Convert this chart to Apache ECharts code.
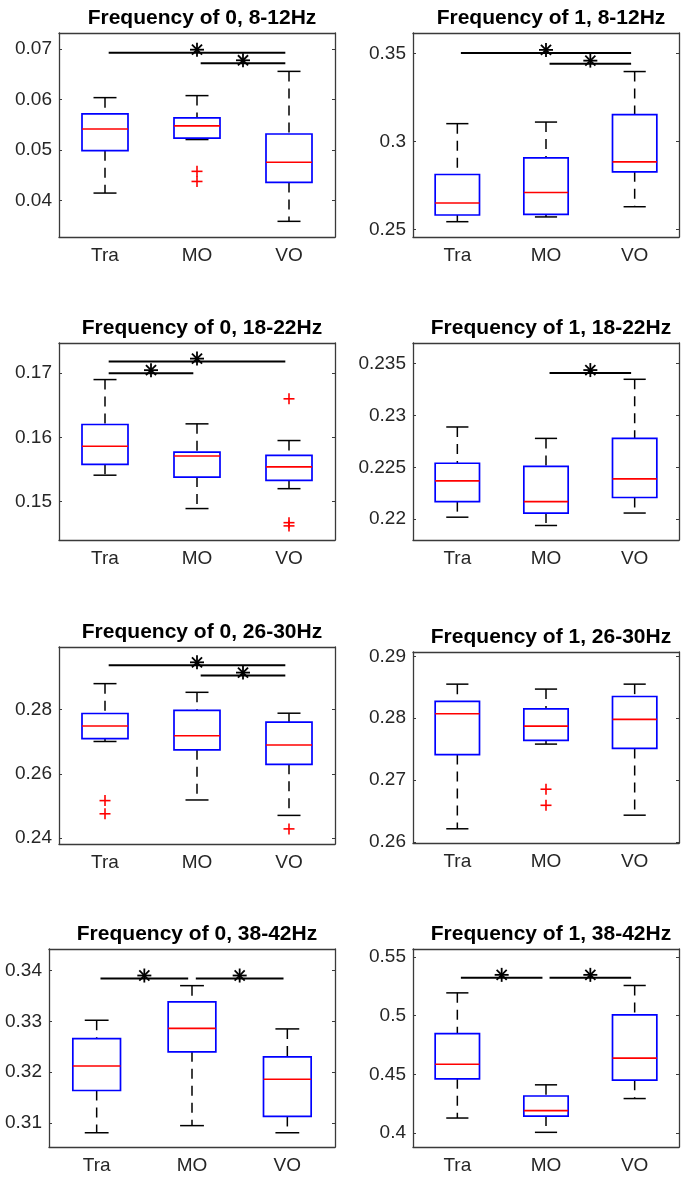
<!DOCTYPE html>
<html>
<head>
<meta charset="utf-8">
<script src="https://cdn.jsdelivr.net/npm/echarts@6/dist/echarts.min.js"></script>
<style>
  html, body { margin: 0; padding: 0; background: #fff; }
  #chart { width: 687px; height: 1179px; }
</style>
</head>
<body>
<div id="chart"></div>
<script>
var groups = ['Tra', 'MO', 'VO'];

// each row: [lower whisker, Q1, median, Q3, upper whisker] for Tra, MO, VO
var box0_8 = [[0.0415, 0.0499, 0.0542, 0.0572, 0.0604], [0.0521, 0.0524, 0.0548, 0.0564, 0.0608], [0.0359, 0.0436, 0.0476, 0.0532, 0.0656]];
var box1_8 = [[0.2545, 0.2583, 0.2651, 0.2813, 0.3102], [0.2572, 0.2587, 0.2711, 0.2908, 0.3111], [0.2630, 0.2828, 0.2885, 0.3153, 0.3398]];
var box0_18 = [[0.1541, 0.1558, 0.1586, 0.1620, 0.1690], [0.1489, 0.1538, 0.1571, 0.1577, 0.1621], [0.1520, 0.1533, 0.1554, 0.1572, 0.1595]];
var box1_18 = [[0.2202, 0.2217, 0.2237, 0.2254, 0.2289], [0.2194, 0.2206, 0.2217, 0.2251, 0.2278], [0.2206, 0.2221, 0.2239, 0.2278, 0.2335]];
var box0_26 = [[0.2701, 0.2710, 0.2749, 0.2788, 0.2881], [0.2519, 0.2675, 0.2719, 0.2798, 0.2854], [0.2471, 0.2630, 0.2690, 0.2761, 0.2789]];
var box1_26 = [[0.2621, 0.2741, 0.2807, 0.2827, 0.2855], [0.2758, 0.2764, 0.2787, 0.2815, 0.2847], [0.2643, 0.2751, 0.2798, 0.2835, 0.2855]];
var box0_38 = [[0.3081, 0.3164, 0.3212, 0.3266, 0.3302], [0.3095, 0.3240, 0.3286, 0.3338, 0.3370], [0.3081, 0.3113, 0.3186, 0.3230, 0.3285]];
var box1_38 = [[0.4127, 0.4461, 0.4586, 0.4846, 0.5194], [0.4005, 0.4144, 0.4190, 0.4315, 0.4410], [0.4293, 0.4450, 0.4638, 0.5006, 0.5257]];

// outliers: [group index, value]
var out0_8 = [[1, 0.0458], [1, 0.0438]];
var out1_8 = [];
var out0_18 = [[2, 0.1660], [2, 0.1467], [2, 0.1462]];
var out1_18 = [];
var out0_26 = [[0, 0.2517], [0, 0.2476], [2, 0.2429]];
var out1_26 = [[1, 0.2685], [1, 0.2659]];
var out0_38 = [];
var out1_38 = [];

// significance bars: [from group, to group, height]
var sig0_8 = [[0, 2, 0.0693], [1, 2, 0.0672]];
var sig1_8 = [[0, 2, 0.3504], [1, 2, 0.3443]];
var sig0_18 = [[0, 2, 0.1718], [0, 1, 0.1700]];
var sig1_18 = [[1, 2, 0.2341]];
var sig0_26 = [[0, 2, 0.2938], [1, 2, 0.2906]];
var sig1_26 = [];
var sig0_38 = [[0, 1, 0.3384], [1, 2, 0.3384]];
var sig1_38 = [[0, 1, 0.5322], [1, 2, 0.5322]];

// y tick labels and y limits
var ticks0_8 = [0.04, 0.05, 0.06, 0.07];
var ticks1_8 = [0.25, 0.3, 0.35];
var ticks0_18 = [0.15, 0.16, 0.17];
var ticks1_18 = [0.22, 0.225, 0.23, 0.235];
var ticks0_26 = [0.24, 0.26, 0.28];
var ticks1_26 = [0.26, 0.27, 0.28, 0.29];
var ticks0_38 = [0.31, 0.32, 0.33, 0.34];
var ticks1_38 = [0.4, 0.45, 0.5, 0.55];
var lim0_8 = [0.0328, 0.0732];
var lim1_8 = [0.2458, 0.3617];
var lim0_18 = [0.1440, 0.1747];
var lim1_18 = [0.2180, 0.2370];
var lim0_26 = [0.2382, 0.2995];
var lim1_26 = [0.2598, 0.2907];
var lim0_38 = [0.3053, 0.3442];
var lim1_38 = [0.3880, 0.5568];

var titles = ['Frequency of 0, 8-12Hz', 'Frequency of 1, 8-12Hz',
  'Frequency of 0, 18-22Hz', 'Frequency of 1, 18-22Hz',
  'Frequency of 0, 26-30Hz', 'Frequency of 1, 26-30Hz',
  'Frequency of 0, 38-42Hz', 'Frequency of 1, 38-42Hz'];

var panels = [
  { box: box0_8, out: out0_8, sig: sig0_8, ticks: ticks0_8, lim: lim0_8, pos: [59, 33, 276, 204] },
  { box: box1_8, out: out1_8, sig: sig1_8, ticks: ticks1_8, lim: lim1_8, pos: [413, 33, 266, 204] },
  { box: box0_18, out: out0_18, sig: sig0_18, ticks: ticks0_18, lim: lim0_18, pos: [59, 343, 276, 197] },
  { box: box1_18, out: out1_18, sig: sig1_18, ticks: ticks1_18, lim: lim1_18, pos: [413, 343, 266, 197] },
  { box: box0_26, out: out0_26, sig: sig0_26, ticks: ticks0_26, lim: lim0_26, pos: [59, 647, 276, 197] },
  { box: box1_26, out: out1_26, sig: sig1_26, ticks: ticks1_26, lim: lim1_26, pos: [413, 652, 266, 191] },
  { box: box0_38, out: out0_38, sig: sig0_38, ticks: ticks0_38, lim: lim0_38, pos: [49, 949, 286, 198] },
  { box: box1_38, out: out1_38, sig: sig1_38, ticks: ticks1_38, lim: lim1_38, pos: [413, 949, 266, 198] }
];

var frame = '#3a3a3a';
var labelFont = { fontFamily: 'Liberation Sans', fontSize: 19, color: '#262626' };

function renderBox(params, api) {
  var i = api.value(0);
  var band = api.size([1, 0])[0];
  var hw = band * 0.25, cw = band * 0.125;
  var lo = api.coord([i, api.value(1)]);
  var q1 = api.coord([i, api.value(2)]);
  var md = api.coord([i, api.value(3)]);
  var q3 = api.coord([i, api.value(4)]);
  var hi = api.coord([i, api.value(5)]);
  var x = lo[0];
  var dash = { stroke: '#000', lineWidth: 1.5, lineDash: [10, 7] };
  var solid = { stroke: '#000', lineWidth: 1.5 };
  return {
    type: 'group',
    children: [
      { type: 'line', shape: { x1: x, y1: hi[1], x2: x, y2: q3[1] }, style: dash },
      { type: 'line', shape: { x1: x, y1: q1[1], x2: x, y2: lo[1] }, style: dash },
      { type: 'line', shape: { x1: x - cw, y1: hi[1], x2: x + cw, y2: hi[1] }, style: solid },
      { type: 'line', shape: { x1: x - cw, y1: lo[1], x2: x + cw, y2: lo[1] }, style: solid },
      { type: 'rect', shape: { x: x - hw, y: q3[1], width: hw * 2, height: q1[1] - q3[1] },
        style: { fill: 'none', stroke: '#0000ff', lineWidth: 1.7 } },
      { type: 'line', shape: { x1: x - hw, y1: md[1], x2: x + hw, y2: md[1] },
        style: { stroke: '#ff0000', lineWidth: 1.6 } }
    ]
  };
}

function renderOutlier(params, api) {
  var p = api.coord([api.value(0), api.value(1)]);
  var r = 5.5;
  var st = { stroke: '#ff0000', lineWidth: 1.6 };
  return {
    type: 'group',
    children: [
      { type: 'line', shape: { x1: p[0] - r, y1: p[1], x2: p[0] + r, y2: p[1] }, style: st },
      { type: 'line', shape: { x1: p[0], y1: p[1] - r, x2: p[0], y2: p[1] + r }, style: st }
    ]
  };
}

function renderSig(params, api) {
  var band = api.size([1, 0])[0];
  var a = api.coord([api.value(0), api.value(2)]);
  var b = api.coord([api.value(1), api.value(2)]);
  var x1 = a[0] + band * 0.04, x2 = b[0] - band * 0.04, y = a[1];
  var cx = (x1 + x2) / 2, cy = y - 3, r = 7, d = r * 0.72;
  var st = { stroke: '#000', lineWidth: 1.8 };
  return {
    type: 'group',
    children: [
      { type: 'line', shape: { x1: x1, y1: y, x2: x2, y2: y }, style: { stroke: '#000', lineWidth: 2 } },
      { type: 'line', shape: { x1: cx - r, y1: cy, x2: cx + r, y2: cy }, style: st },
      { type: 'line', shape: { x1: cx, y1: cy - r, x2: cx, y2: cy + r }, style: st },
      { type: 'line', shape: { x1: cx - d, y1: cy - d, x2: cx + d, y2: cy + d }, style: st },
      { type: 'line', shape: { x1: cx - d, y1: cy + d, x2: cx + d, y2: cy - d }, style: st }
    ]
  };
}

var option = { animation: false, backgroundColor: '#fff', title: [], grid: [], xAxis: [], yAxis: [], series: [] };

panels.forEach(function (p, k) {
  var left = p.pos[0], top = p.pos[1], w = p.pos[2], h = p.pos[3];
  option.grid.push({ left: left, top: top, width: w, height: h, show: false });
  option.title.push({
    text: titles[k], left: left + w / 2, top: top - 30, textAlign: 'center',
    textStyle: { fontFamily: 'Liberation Sans', fontSize: 21, fontWeight: 'bold', color: '#000' }
  });
  var fmt = function (v) { return String(Number(Number(v).toFixed(4))); };
  // bottom and top x axes
  option.xAxis.push({
    type: 'category', data: groups, gridIndex: k, position: 'bottom', boundaryGap: true,
    axisLine: { onZero: false, lineStyle: { color: frame, width: 1.3 } },
    axisTick: { inside: true, alignWithLabel: true, length: 3, lineStyle: { color: frame } },
    axisLabel: Object.assign({ margin: 9 }, labelFont),
    splitLine: { show: false }
  });
  option.xAxis.push({
    type: 'category', data: groups, gridIndex: k, position: 'top', boundaryGap: true,
    axisLine: { onZero: false, lineStyle: { color: frame, width: 1.3 } },
    axisTick: { inside: true, alignWithLabel: true, length: 3, lineStyle: { color: frame } },
    axisLabel: { show: false }, splitLine: { show: false }
  });
  // left and right y axes
  option.yAxis.push({
    type: 'value', gridIndex: k, position: 'left', min: p.lim[0], max: p.lim[1],
    axisLine: { show: true, lineStyle: { color: frame, width: 1.3 } },
    axisTick: { show: true, inside: true, length: 3, customValues: p.ticks, lineStyle: { color: frame } },
    axisLabel: Object.assign({ margin: 7, customValues: p.ticks, formatter: fmt }, labelFont),
    splitLine: { show: false }
  });
  option.yAxis.push({
    type: 'value', gridIndex: k, position: 'right', min: p.lim[0], max: p.lim[1],
    axisLine: { show: true, lineStyle: { color: frame, width: 1.3 } },
    axisTick: { show: true, inside: true, length: 3, customValues: p.ticks, lineStyle: { color: frame } },
    axisLabel: { show: false }, splitLine: { show: false }
  });
  var xi = 2 * k, yi = 2 * k;
  option.series.push({
    type: 'custom', xAxisIndex: xi, yAxisIndex: yi, renderItem: renderBox, clip: false,
    encode: { x: 0, y: [1, 2, 3, 4, 5] },
    data: p.box.map(function (b, i) { return [i].concat(b); })
  });
  if (p.out.length) {
    option.series.push({
      type: 'custom', xAxisIndex: xi, yAxisIndex: yi, renderItem: renderOutlier, clip: false,
      encode: { x: 0, y: 1 }, data: p.out
    });
  }
  if (p.sig.length) {
    option.series.push({
      type: 'custom', xAxisIndex: xi, yAxisIndex: yi, renderItem: renderSig, clip: false,
      encode: { x: [0, 1], y: 2 }, data: p.sig
    });
  }
});

var myChart = echarts.init(document.getElementById('chart'), null, { renderer: 'canvas' });
myChart.setOption(option);
</script>
</body>
</html>
